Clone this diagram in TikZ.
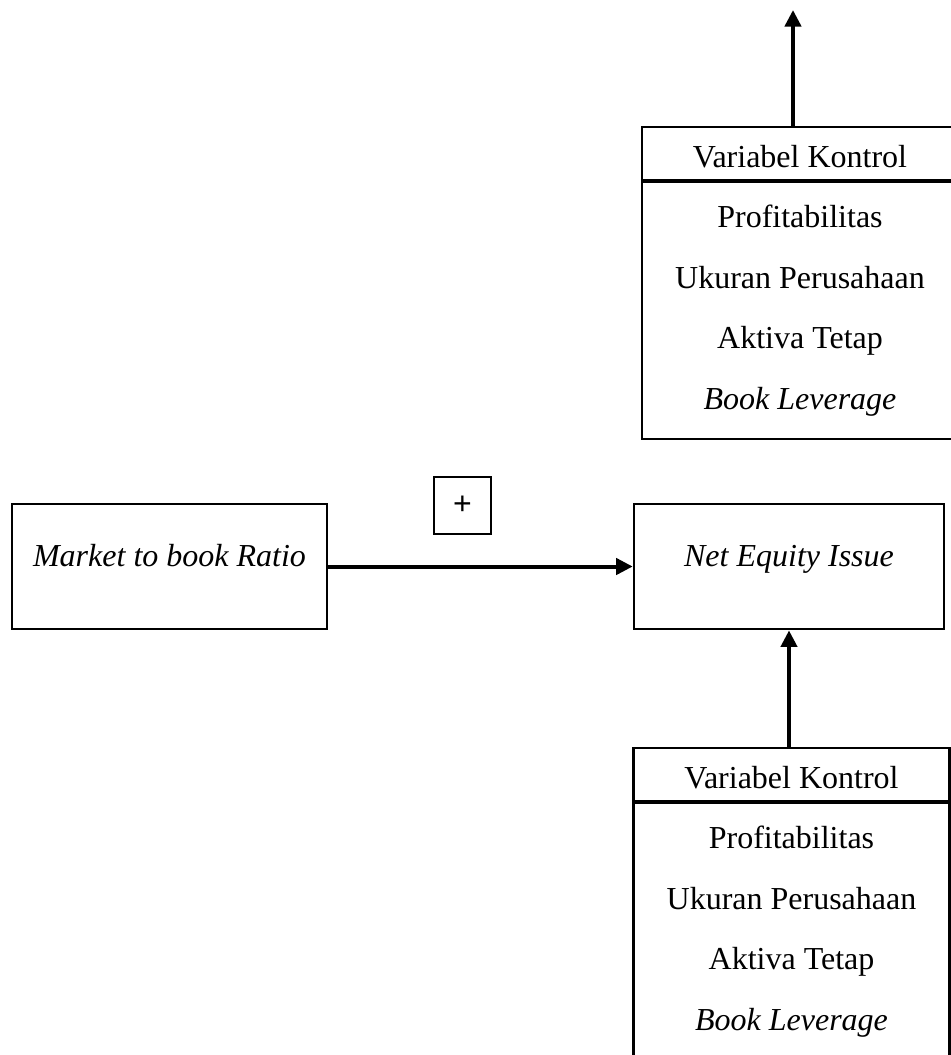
\documentclass[tikz,border=0pt]{standalone}
\usepackage{fontspec}
\setmainfont{Liberation Serif}
\setsansfont{Liberation Sans}
\usepackage{tikz}
\usetikzlibrary{positioning,arrows.meta,calc}
\tikzset{
  varbox/.style={draw, line width=0.9pt, minimum height=47pt, font=\itshape, text height=2ex, text depth=2ex},
  ctrlbox/.style={draw, line width=0.9pt, minimum width=118.5pt, minimum height=117pt, anchor=north, inner sep=0pt},
  ctrlitem/.style={anchor=base},
  signbox/.style={draw, line width=0.6pt, minimum size=21.4pt, inner sep=0pt, font=\sffamily},
  arr/.style={-{Triangle[length=6.2pt,width=6pt]}, line width=1.5pt},
  rule/.style={line width=1.4pt},
}

\begin{document}
\fontsize{12}{14.4}\selectfont
\begin{tikzpicture}[x=0.375pt, y=-0.375pt]
  \useasboundingbox (0,0) rectangle (951,1055);
  % main variables
  \node[varbox, minimum width=118.1pt] (mtb) at (169.5,566.5) {Market to book Ratio};
  \node[varbox, minimum width=116.3pt] (nei) at (789,566.5) {Net Equity Issue};
  \node[signbox] (sign) at (462.5,505.5) {+};
  \draw[arr] (mtb.east) -- (nei.west);

  % control variables, upper box
  \node[ctrlbox] (ctrlA) at (800,126) {};
  \node[ctrlitem] (hdA) at ($(ctrlA.north)+(0,41)$) {Variabel Kontrol};
  \draw[rule] ($(ctrlA.north west)+(0,55)$) -- ($(ctrlA.north east)+(0,55)$);
  \foreach \t [count=\i] in {Profitabilitas,Ukuran Perusahaan,Aktiva Tetap,{\textit{Book Leverage}}}
    \node[ctrlitem] (itA\i) at ($(ctrlA.north)+(0,41+60.5*\i)$) {\t};
  \coordinate (topend) at (793,10);
  \draw[arr] (ctrlA.north -| topend) -- (topend);

  % control variables, lower box
  \node[ctrlbox] (ctrlB) at (791.5,747) {};
  \node[ctrlitem] (hdB) at ($(ctrlB.north)+(0,41)$) {Variabel Kontrol};
  \draw[rule] ($(ctrlB.north west)+(0,55)$) -- ($(ctrlB.north east)+(0,55)$);
  \foreach \t [count=\i] in {Profitabilitas,Ukuran Perusahaan,Aktiva Tetap,{\textit{Book Leverage}}}
    \node[ctrlitem] (itB\i) at ($(ctrlB.north)+(0,41+60.5*\i)$) {\t};
  \draw[arr] (ctrlB.north -| nei.south) -- (nei.south);
\end{tikzpicture}
\end{document}
